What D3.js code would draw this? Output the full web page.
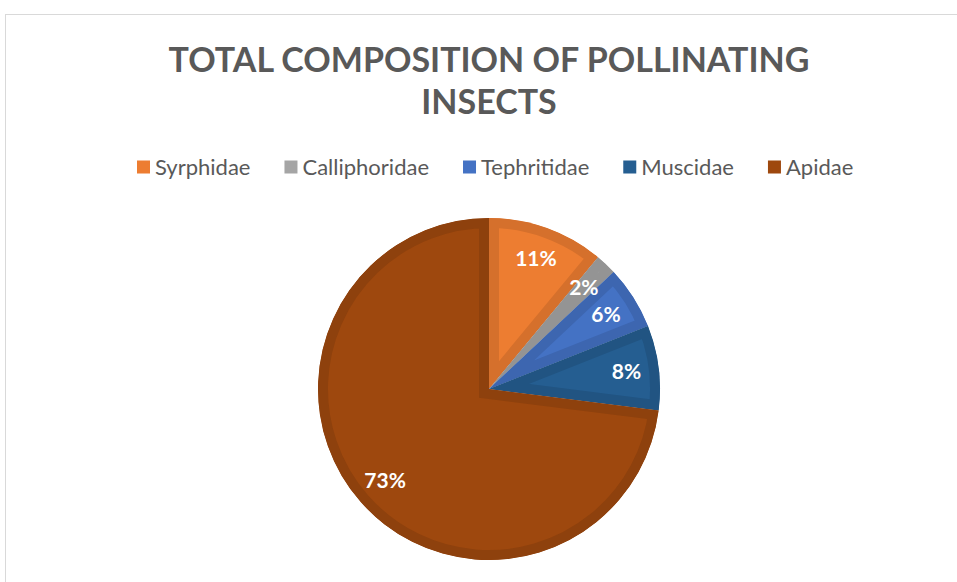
<!DOCTYPE html>
<html>
<head>
<meta charset="utf-8">
<script src="https://cdn.jsdelivr.net/npm/d3@7"></script>
<style>
  body { margin: 0; background: #fff; }
  svg { display: block; }
</style>
</head>
<body>
<div id="chart"></div>
<script>
// pie data
var families = ["Syrphidae", "Calliphoridae", "Tephritidae", "Muscidae", "Apidae"];
var shares = [11, 2, 6, 8, 73];
var colors = ["#ED7D31", "#A5A5A5", "#4472C4", "#255E91", "#9E480E"];
var titleLines = ["TOTAL COMPOSITION OF POLLINATING", "INSECTS"];

var width = 957, height = 582;
var cx = 489, cy = 389, radius = 171;

var svg = d3.select("#chart").append("svg")
    .attr("width", width)
    .attr("height", height);

// chart frame (bottom and right run off the page)
svg.append("rect")
    .attr("x", 5.5).attr("y", 14.5)
    .attr("width", 1000).attr("height", 600)
    .attr("fill", "none")
    .attr("stroke", "#d9d9d9");

// title
svg.selectAll(".title")
    .data(titleLines)
    .enter().append("text")
    .attr("class", "title")
    .attr("x", cx)
    .attr("y", function (d, i) { return 72 + i * 42; })
    .attr("text-anchor", "middle")
    .style("font-family", "Lato, 'Open Sans', sans-serif")
    .style("font-weight", "bold")
    .style("font-size", "34px")
    .style("fill", "#595959")
    .text(function (d) { return d; });

// legend
var legend = svg.append("g").attr("transform", "translate(0,167)");
var lx = 137;
families.forEach(function (name, i) {
    var item = legend.append("g").attr("transform", "translate(" + lx + ",0)");
    item.append("rect")
        .attr("x", 0).attr("y", -6.5)
        .attr("width", 13).attr("height", 13)
        .attr("fill", colors[i]);
    var t = item.append("text")
        .attr("x", 18).attr("y", 0)
        .attr("dy", "0.35em")
        .style("font-family", "Lato, 'Open Sans', sans-serif")
        .style("font-size", "22px")
        .style("fill", "#595959")
        .text(name);
    lx += 18 + t.node().getComputedTextLength() + 34;
});

// pie
var pie = d3.pie().sort(null).value(function (d) { return d; });
var arc = d3.arc().innerRadius(0).outerRadius(radius);
var labelArc = d3.arc().innerRadius(radius * 0.81).outerRadius(radius * 0.81);
var arcs = pie(shares);

var g = svg.append("g").attr("transform", "translate(" + cx + "," + cy + ")");
var defs = svg.append("defs");

arcs.forEach(function (a, i) {
    defs.append("clipPath").attr("id", "clip" + i)
        .append("path").attr("d", arc(a));
});

g.selectAll(".slice")
    .data(arcs)
    .enter().append("path")
    .attr("class", "slice")
    .attr("d", arc)
    .attr("clip-path", function (d, i) { return "url(#clip" + i + ")"; })
    .attr("fill", function (d, i) { return colors[i]; })
    .attr("stroke", function (d, i) { return d3.color(colors[i]).darker(0.3); })
    .attr("stroke-width", 20)
    .attr("stroke-linejoin", "miter");

var total = d3.sum(shares);
g.selectAll(".lbl")
    .data(arcs)
    .enter().append("text")
    .attr("class", "lbl")
    .attr("transform", function (d) { return "translate(" + labelArc.centroid(d) + ")"; })
    .attr("text-anchor", "middle")
    .attr("dy", "0.35em")
    .style("font-family", "Lato, 'Open Sans', sans-serif")
    .style("font-weight", "bold")
    .style("font-size", "21px")
    .style("fill", "#fff")
    .text(function (d) { return Math.round(d.value / total * 100) + "%"; });
</script>
</body>
</html>
